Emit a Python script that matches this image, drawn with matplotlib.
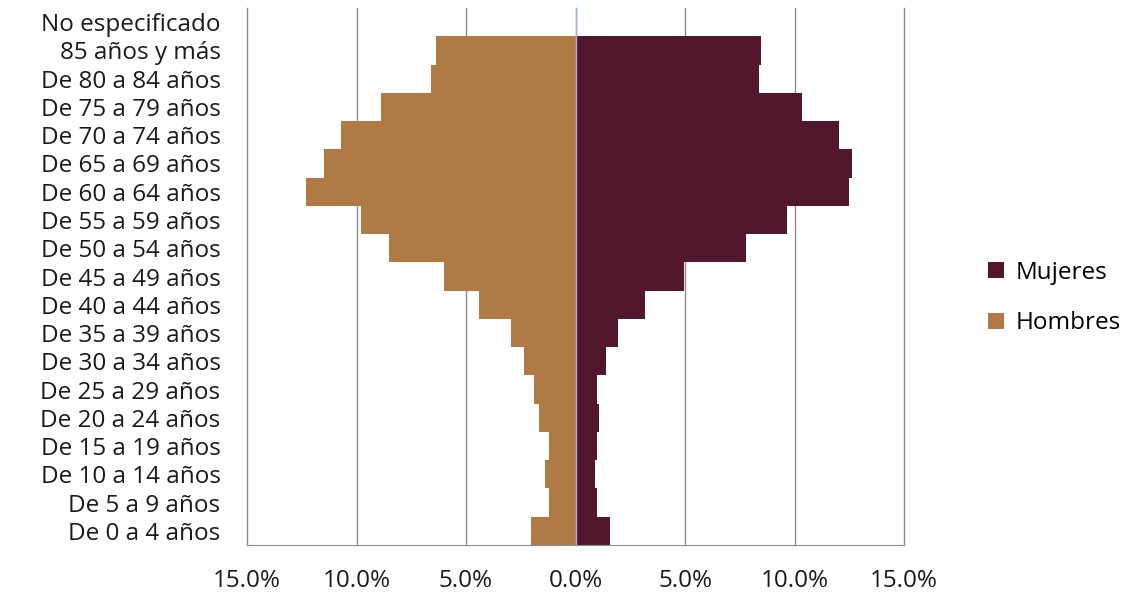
import numpy as np
import matplotlib
matplotlib.use("Agg")
from matplotlib import pyplot as plt
from matplotlib.ticker import FuncFormatter

plt.rcParams['font.family'] = ['Open Sans', 'DejaVu Sans']

categorias = ["De 0 a 4 años", "De 5 a 9 años", "De 10 a 14 años", "De 15 a 19 años",
              "De 20 a 24 años", "De 25 a 29 años", "De 30 a 34 años", "De 35 a 39 años",
              "De 40 a 44 años", "De 45 a 49 años", "De 50 a 54 años", "De 55 a 59 años",
              "De 60 a 64 años", "De 65 a 69 años", "De 70 a 74 años", "De 75 a 79 años",
              "De 80 a 84 años", "85 años y más", "No especificado"]

mujeres = [1.55, 1.00, 0.91, 1.00, 1.05, 1.00, 1.41, 1.96, 3.15, 4.97, 7.80, 9.67,
           12.49, 12.63, 12.04, 10.35, 8.39, 8.48, 0.0]
hombres = [2.05, 1.19, 1.41, 1.23, 1.69, 1.92, 2.37, 2.96, 4.42, 6.02, 8.53, 9.80,
           12.31, 11.49, 10.72, 8.89, 6.61, 6.38, 0.0]

color_mujeres = "#53172D"
color_hombres = "#B07A45"

fig = plt.figure(figsize=(11.33, 5.94), dpi=100)
ax = fig.add_axes([0.218, 0.0825, 0.58, 0.904])

y = np.arange(len(categorias))
ax.barh(y, mujeres, height=1.0, color=color_mujeres, label="Mujeres", zorder=2)
ax.barh(y, [-v for v in hombres], height=1.0, color=color_hombres, label="Hombres", zorder=2)
ax.axvline(0, color="#9DB0E0", lw=1, zorder=3)

ax.set_xlim(-15, 15)
ax.set_ylim(-0.5, len(categorias) - 0.5)
ax.set_xticks([-15, -10, -5, 0, 5, 10, 15])
ax.xaxis.set_major_formatter(FuncFormatter(lambda v, p: "%.1f%%" % abs(v)))
ax.set_yticks(y)
ax.set_yticklabels(categorias)
ax.grid(axis="x", color="#8C8C8C", lw=1, zorder=0)
ax.set_axisbelow(True)
for gl in ax.get_xgridlines():
    gl.set_clip_on(False)

for s in ["top", "left", "right"]:
    ax.spines[s].set_visible(False)
ax.spines["bottom"].set_color("#8C8C8C")
ax.tick_params(axis="both", length=0, labelsize=17.5, colors="#1a1a1a")
ax.tick_params(axis="x", pad=17)
ax.tick_params(axis="y", pad=19)

leg = ax.legend(loc="center left", bbox_to_anchor=(1.095, 0.46), frameon=False,
                fontsize=17.5, handlelength=0.65, handleheight=0.65, handletextpad=0.45,
                labelspacing=1.1)

fig.savefig("out.png", dpi=100)
